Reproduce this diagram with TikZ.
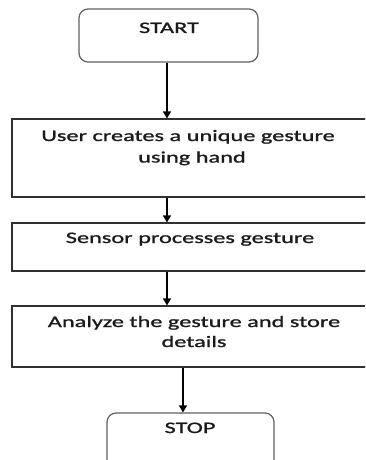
\documentclass[tikz,border=0pt]{standalone}
\usepackage{fontspec}
\setmainfont[FakeStretch=1.52,FakeBold=1.2]{Carlito}
\usetikzlibrary{arrows.meta}
\definecolor{boxgray}{HTML}{303030}
\definecolor{termgray}{HTML}{606060}
\definecolor{txtcol}{HTML}{1A1A1A}
\begin{document}
\begin{tikzpicture}[x=1pt,y=-1pt,
  procbox/.style={draw=boxgray, line width=1.2pt, rectangle, inner sep=0pt},
  termbox/.style={draw=termgray, line width=1.2pt, rounded corners=9pt, rectangle, inner sep=0pt},
  txt/.style={font=\fontsize{16}{21}\selectfont, text=txtcol, inner sep=0pt, anchor=base},
  flow/.style={draw=black, line width=1.2pt, -{Triangle[length=7pt,width=8pt]}}]
\useasboundingbox (0,0) rectangle (365,460);
\clip (0,0) rectangle (365,460);
% boxes
\node[termbox, minimum width=179pt, minimum height=53pt] (start) at (168.5,35.5) {};
\node[procbox, minimum width=360pt, minimum height=78pt] (box1) at (192,158) {};
\node[procbox, minimum width=360pt, minimum height=48pt] (box2) at (192,247) {};
\node[procbox, minimum width=360pt, minimum height=61pt] (box3) at (192,336.5) {};
\node[termbox, minimum width=167pt, minimum height=62pt] (stop) at (190.5,444) {};
% texts
\node[txt] (tstart) at (169,33) {START};
\node[txt] (t1a) at (188,141) {User creates a unique gesture};
\node[txt] (t1b) at (192,162.5) {using hand};
\node[txt] (t2) at (190,243) {Sensor processes gesture};
\node[txt] (t3a) at (194,327) {Analyze the gesture and store};
\node[txt] (t3b) at (194,347) {details};
\node[txt] (tstop) at (190,433) {STOP};
% connectors
\draw[flow] ([xshift=-1.5pt]start.south) -- ([xshift=-1.5pt]start.south |- box1.north);
\draw[flow] ([xshift=-1.5pt]start.south |- box1.south) -- ([xshift=-1.5pt]start.south |- box2.north);
\draw[flow] ([xshift=-1.5pt]start.south |- box2.south) -- ([xshift=-1.5pt]start.south |- box3.north);
\draw[flow] ([xshift=-7.5pt]stop.north |- box3.south) -- ([xshift=-7.5pt]stop.north);
\end{tikzpicture}
\end{document}
